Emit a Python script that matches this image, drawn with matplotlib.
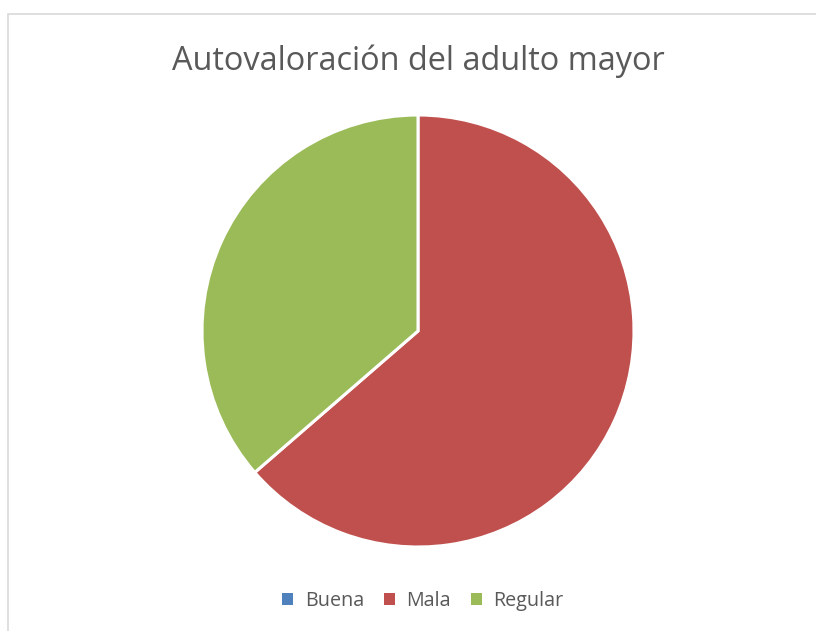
import matplotlib
matplotlib.use("Agg")
import matplotlib.pyplot as plt
from matplotlib.patches import Rectangle, Patch

categories = ["Buena", "Mala", "Regular"]
values = [0, 7, 4]
colors = ["#4F81BD", "#C0504D", "#9BBB59"]
title = "Autovaloración del adulto mayor"

plt.rcParams['font.family'] = ['Open Sans', 'DejaVu Sans']

W, H = 816, 631
fig = plt.figure(figsize=(W/100, H/100), dpi=100)
fig.patch.set_facecolor("white")

# chart border
fig.patches.append(Rectangle((8/W, -0.01), 1.0, (H-14)/H + 0.01, transform=fig.transFigure,
                             fill=False, edgecolor="#D9D9D9", linewidth=1.2))

cx, cy, r = 418, 331, 216
ax = fig.add_axes([(cx-r)/W, (H-cy-r)/H, 2*r/W, 2*r/H])
ax.pie(values, colors=colors, startangle=90, counterclock=False, radius=1,
       wedgeprops=dict(edgecolor="white", linewidth=2.2))
ax.set_xlim(-1.0, 1.0)
ax.set_ylim(-1.0, 1.0)
ax.set_aspect("equal")
ax.axis("off")

fig.text(418/W, 1 - 61/H, title, ha="center", va="center", fontsize=23.4, color="#595959")

handles = [Patch(facecolor=c, edgecolor="none") for c in colors]
fig.legend(handles, categories, loc="center", bbox_to_anchor=(423/W, 1 - 601/H), ncol=3,
           frameon=False, fontsize=14.2, labelcolor="#595959", handlelength=0.55, handleheight=0.55,
           handletextpad=0.6, columnspacing=1.0)

fig.savefig("out.png", dpi=100)
